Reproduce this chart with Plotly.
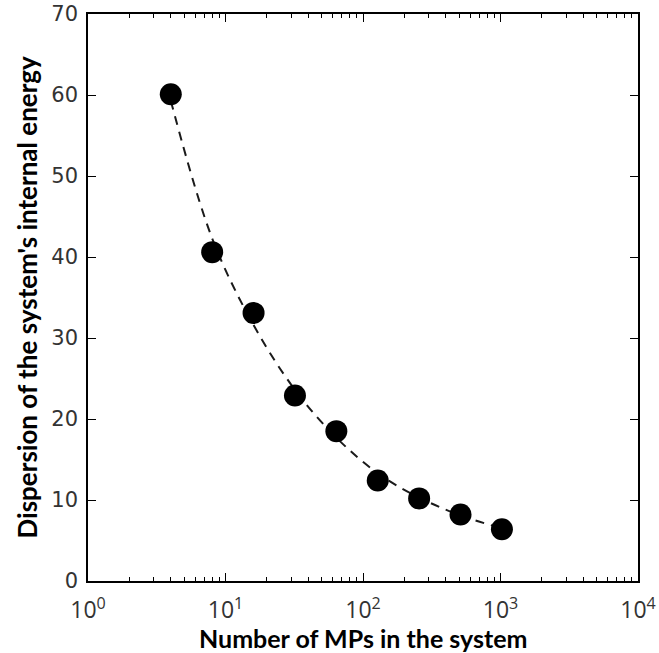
import plotly.graph_objects as go

n_mps = [4, 8, 16, 32, 64, 128, 256, 512, 1024]
dispersion = [60.1, 40.6, 33.1, 22.9, 18.5, 12.4, 10.2, 8.2, 6.4]
fit_dispersion = [59.3, 42.3, 31.6, 23.6, 17.7, 13.3, 10.3, 8.1, 6.5]

x_tick_vals = [1, 10, 100, 1000, 10000]
x_tick_text = ["10<sup>0</sup>", "10<sup>1</sup>", "10<sup>2</sup>", "10<sup>3</sup>", "10<sup>4</sup>"]
y_tick_vals = [0, 10, 20, 30, 40, 50, 60, 70]
x_title = "Number of MPs in the system"
y_title = "Dispersion of the system's internal energy"

minor_vals = [m * d for d in (1, 10, 100, 1000) for m in range(2, 10)]

fig = go.Figure()
fig.add_trace(go.Scatter(x=n_mps, y=fit_dispersion, mode="lines",
                         line=dict(color="#1a1a1a", width=2, dash="9px,7px", shape="spline", smoothing=1.0),
                         showlegend=False, hoverinfo="skip"))
fig.add_trace(go.Scatter(x=n_mps, y=dispersion, mode="markers",
                         marker=dict(color="black", size=22, line=dict(color="black", width=0)),
                         showlegend=False))

axis_common = dict(showline=True, linecolor="black", linewidth=1.5, mirror="ticks",
                   ticks="inside", tickcolor="black", showgrid=False, zeroline=False,
                   automargin=False)

fig.update_xaxes(type="log", range=[0, 4], tickvals=x_tick_vals, ticktext=x_tick_text,
                 ticklen=8, tickwidth=1, ticklabelstandoff=8,
                 tickfont=dict(family="Open Sans", size=23, color="#333333"),
                 minor=dict(ticks="inside", ticklen=4, tickcolor="black", tickvals=minor_vals, showgrid=False),
                 **axis_common)
fig.update_yaxes(range=[0, 70], tickvals=y_tick_vals, ticklen=8, tickwidth=1, ticklabelstandoff=4,
                 tickfont=dict(family="DejaVu Sans", size=21, color="#333333"),
                 **axis_common)

fig.add_annotation(text=x_title, xref="paper", yref="paper", x=0.5, y=0, yshift=-57,
                   showarrow=False, yanchor="middle", xanchor="center",
                   font=dict(family="Lato", size=25, color="black", weight="bold"))
fig.add_annotation(text=y_title, xref="paper", yref="paper", x=0, y=0.5, xshift=-62,
                   showarrow=False, yanchor="middle", xanchor="center", textangle=-90,
                   font=dict(family="Lato", size=26, color="black", weight="bold"))

fig.update_layout(width=659, height=653, plot_bgcolor="white", paper_bgcolor="white",
                  margin=dict(l=88, r=21, t=14, b=72))

fig.write_html("out.html", config={"displayModeBar": False},
               post_script="document.body.style.margin='0';document.body.style.overflow='hidden';")
